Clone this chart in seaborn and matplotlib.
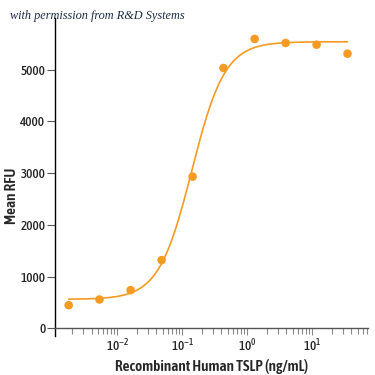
import numpy as np
import pandas as pd
import seaborn as sns
import matplotlib.pyplot as plt
from matplotlib.ticker import LogLocator, LogFormatterSciNotation, NullFormatter

# measured points (3-fold dilution series)
conc = [0.00178, 0.0053, 0.016, 0.048, 0.144, 0.43, 1.3, 3.9, 11.7, 35]
rfu = [446, 556, 736, 1318, 2932, 5033, 5595, 5517, 5484, 5310]

# 4PL fit parameters
fit_bottom = 560
fit_top = 5540
fit_ec50 = 0.14
fit_hill = 1.7

orange = '#F59B23'

sns.set_style('white')
plt.rcParams['font.family'] = ['Asap Condensed', 'DejaVu Sans']
plt.rcParams['mathtext.fontset'] = 'custom'
plt.rcParams['mathtext.rm'] = 'Asap Condensed'
plt.rcParams['mathtext.it'] = 'Asap Condensed'

df = pd.DataFrame({'conc': conc, 'rfu': rfu})
xs = np.logspace(np.log10(conc[0]), np.log10(conc[-1]), 300)
curve = pd.DataFrame({'conc': xs,
                      'rfu': fit_bottom + (fit_top - fit_bottom) / (1 + (fit_ec50 / xs) ** fit_hill)})

fig = plt.figure(figsize=(3.75, 3.75), dpi=100)
ax = fig.add_axes([0.147, 0.104, 0.834, 0.848])

sns.lineplot(data=curve, x='conc', y='rfu', color=orange, lw=1.2, ax=ax)
sns.scatterplot(data=df, x='conc', y='rfu', color=orange, s=38, edgecolor='none', ax=ax, zorder=3)

ax.set_xscale('log')
ax.set_xlim(1.1e-3, 72)
ax.set_ylim(-150, 6000)
ax.set_yticks([0, 1000, 2000, 3000, 4000, 5000])

ax.spines['top'].set_visible(False)
ax.spines['right'].set_visible(False)
ax.spines['bottom'].set_position(('data', 0))
ax.spines['left'].set_linewidth(1.0)
ax.spines['bottom'].set_linewidth(1.0)
ax.spines['left'].set_color('black')
ax.spines['bottom'].set_color('#555555')

ax.xaxis.set_major_locator(LogLocator(base=10, numticks=10))
ax.xaxis.set_major_formatter(LogFormatterSciNotation())
ax.xaxis.set_minor_locator(LogLocator(base=10, subs=np.arange(2, 10), numticks=10))
ax.xaxis.set_minor_formatter(NullFormatter())
ax.tick_params(axis='x', which='both', direction='out', length=4, width=0.8,
               color='#888888', pad=2, labelsize=9.5, bottom=True)
ax.tick_params(axis='x', which='major', length=5)
ax.tick_params(axis='y', direction='out', length=6, width=0.8, color='#555555',
               labelsize=9.5, pad=1, left=True)
for lab in ax.get_xticklabels() + ax.get_yticklabels():
    lab.set_fontweight('medium')

ax.set_xlabel('Recombinant Human TSLP (ng/mL)', fontsize=11, fontweight='semibold', labelpad=3)
ax.set_ylabel('Mean RFU', fontsize=11, fontweight='semibold', labelpad=4)
ax.yaxis.set_label_coords(-0.115, 0.44)

fig.text(0.027, 0.948, 'with permission from R&D Systems', fontsize=8.8, style='italic',
         family='Liberation Serif', color='#1c2a48')

fig.savefig('out.png', dpi=100)
